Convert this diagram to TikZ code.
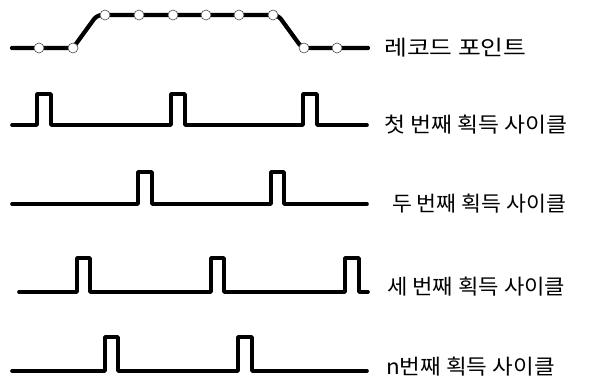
\documentclass[tikz,border=0pt]{standalone}
\usepackage{fontspec}
\newfontfamily\kr{Noto Sans CJK KR}
\begin{document}
\begin{tikzpicture}[x=1pt,y=-1pt,
  sig/.style={line width=3.6pt,line cap=round,line join=round},
  rec/.style={line width=4.2pt,line cap=round,rounded corners=5pt},
  pt/.style={circle,draw=black!70,fill=white,line width=0.6pt,inner sep=0pt,minimum size=10pt},
  lbl/.style={anchor=west,inner sep=0pt,font=\kr\fontsize{21}{21}\selectfont}]
\useasboundingbox (0,0) rectangle (595,382);
% row 1: record points
\draw[rec] (12,48) -- (73,48) -- (97,15) -- (278,15) -- (302,48) -- (368,48);
\foreach \x [count=\i] in {39,73} \node[pt] (b\i) at (\x,48) {};
\foreach \x [count=\i] in {105,139,173,206,239,273} \node[pt] (t\i) at (\x,15) {};
\foreach \x [count=\i] in {304,337} \node[pt] (c\i) at (\x,48) {};
\node[lbl] (l1) at (384,48) {\scalebox{1.18}[1]{레코드 포인트}};
% row 2
\draw[sig] (12,125) -- (37,125) -- (37,94) -- (51,94) -- (51,125) -- (171,125) -- (171,94) -- (185,94) -- (185,125) -- (303,125) -- (303,94) -- (317,94) -- (317,125) -- (367,125);
\node[lbl] (l2) at (384,125) {\scalebox{1.086}[1]{첫 번째 획득 사이클}};
% row 3
\draw[sig] (12,204) -- (138,204) -- (138,172) -- (152,172) -- (152,204) -- (271,204) -- (271,172) -- (284,172) -- (284,204) -- (367,204);
\node[lbl] (l3) at (392,204) {\scalebox{1.03}[1]{두 번째 획득 사이클}};
% row 4
\draw[sig] (19,292) -- (77,292) -- (77,258) -- (90,258) -- (90,292) -- (211,292) -- (211,258) -- (224,258) -- (224,292) -- (345,292) -- (345,258) -- (359,258) -- (359,292) -- (368,292);
\node[lbl] (l4) at (387,287) {\scalebox{1.055}[1]{세 번째 획득 사이클}};
% row 5
\draw[sig] (12,371) -- (105,371) -- (105,337) -- (118,337) -- (118,371) -- (238,371) -- (238,337) -- (252,337) -- (252,371) -- (367,371);
\node[lbl] (l5) at (386,367) {\scalebox{1.07}[1]{n번째 획득 사이클}};
\end{tikzpicture}
\end{document}
